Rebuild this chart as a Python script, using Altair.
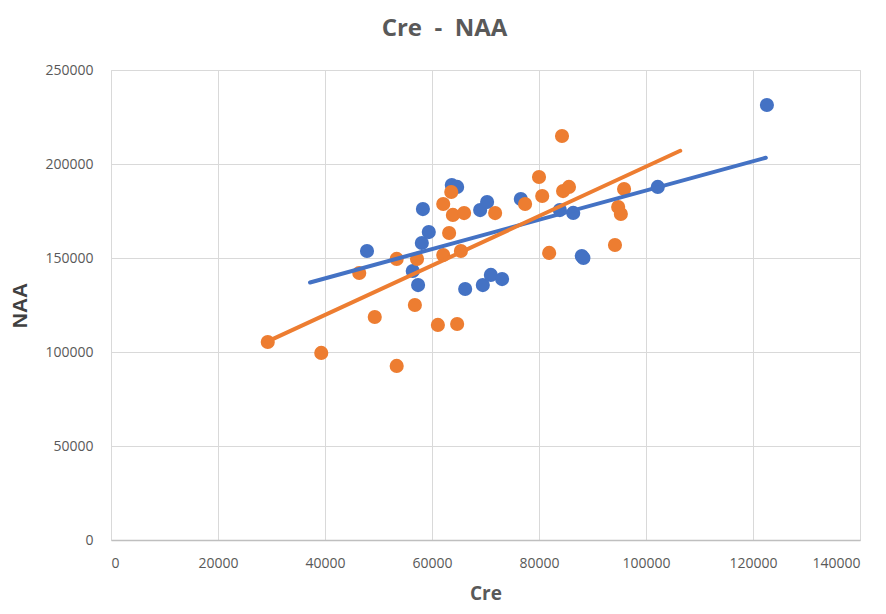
import altair as alt
import pandas as pd

# Series 1 (blue)
blue_cre = [47850, 56400, 57400, 58100, 58300, 59400, 63700, 64700, 66200, 69000,
            69500, 70300, 71000, 73100, 76600, 83900, 86400, 88000, 88300, 102200, 122600]
blue_naa = [153700, 143100, 135600, 158000, 176000, 163800, 188800, 187800, 133500, 175500,
            135600, 179800, 141000, 138800, 181400, 175500, 174000, 151000, 150000, 187800, 231400]

# Series 2 (orange)
orange_cre = [29300, 39300, 46400, 49300, 53400, 53400, 56800, 57200, 61100, 62100,
              62100, 63200, 63600, 63900, 64700, 65400, 66000, 71800, 77400, 80000,
              80600, 81900, 84300, 84500, 85600, 94200, 94800, 95300, 95900]
orange_naa = [105300, 99500, 142000, 118600, 92600, 149500, 125000, 149500, 114400, 151600,
              178700, 163300, 185100, 172900, 114900, 153700, 173900, 173900, 178700, 193100,
              183000, 152700, 214900, 185600, 187800, 156900, 177100, 173400, 186700]

x_ticks = [0, 20000, 40000, 60000, 80000, 100000, 120000, 140000]
y_ticks = [0, 50000, 100000, 150000, 200000, 250000]

blue_df = pd.DataFrame({"Cre": blue_cre, "NAA": blue_naa})
orange_df = pd.DataFrame({"Cre": orange_cre, "NAA": orange_naa})

BLUE = "#4472C4"
ORANGE = "#ED7D31"
FONT = "Open Sans"

xs = alt.Scale(domain=[0, 140000], nice=False)
ys = alt.Scale(domain=[0, 250000], nice=False)

xenc = alt.X("Cre:Q", scale=xs, title="Cre",
             axis=alt.Axis(values=x_ticks, format="d", grid=True, ticks=False,
                           domain=True, domainColor="#bfbfbf", domainWidth=1.5,
                           gridColor="#d9d9d9", labelPadding=16, labelFontSize=14,
                           labelColor="#595959", labelFont=FONT,
                           titleFont=FONT, titleFontSize=19, titleFontWeight="bold",
                           titleColor="#595959", titlePadding=14))
yenc = alt.Y("NAA:Q", scale=ys, title="NAA",
             axis=alt.Axis(values=y_ticks, format="d", grid=True, ticks=False,
                           domain=False, gridColor="#d9d9d9", labelPadding=18,
                           labelFontSize=14, labelColor="#595959", labelFont=FONT,
                           titleFont="Liberation Sans", titleFontSize=21,
                           titleFontWeight="bold", titleColor="#404040",
                           titlePadding=14))

blue_pts = alt.Chart(blue_df).mark_circle(size=200, opacity=1, color=BLUE).encode(x=xenc, y=yenc)
orange_pts = alt.Chart(orange_df).mark_circle(size=200, opacity=1, color=ORANGE).encode(x=xenc, y=yenc)

blue_line = alt.Chart(blue_df).transform_regression(
    "Cre", "NAA", extent=[37200, 122400]
).mark_line(color=BLUE, strokeWidth=4, strokeCap="round").encode(x=xenc, y=yenc)

orange_line = alt.Chart(orange_df).transform_regression(
    "Cre", "NAA", extent=[29300, 106400]
).mark_line(color=ORANGE, strokeWidth=4, strokeCap="round").encode(x=xenc, y=yenc)

chart = alt.layer(blue_pts, orange_pts, blue_line, orange_line).properties(
    width=749, height=470,
    padding={"left": 1, "top": 9, "right": 5, "bottom": 6},
    title=alt.TitleParams("Cre\u00a0\u00a0-\u00a0\u00a0NAA", font=FONT, fontSize=24, fontWeight="bold",
                          color="#595959", anchor="middle", dx=-41, offset=22),
).configure_view(stroke=None).configure(background="white")

chart.save("out.html", embed_options={"renderer": "svg", "actions": False})
